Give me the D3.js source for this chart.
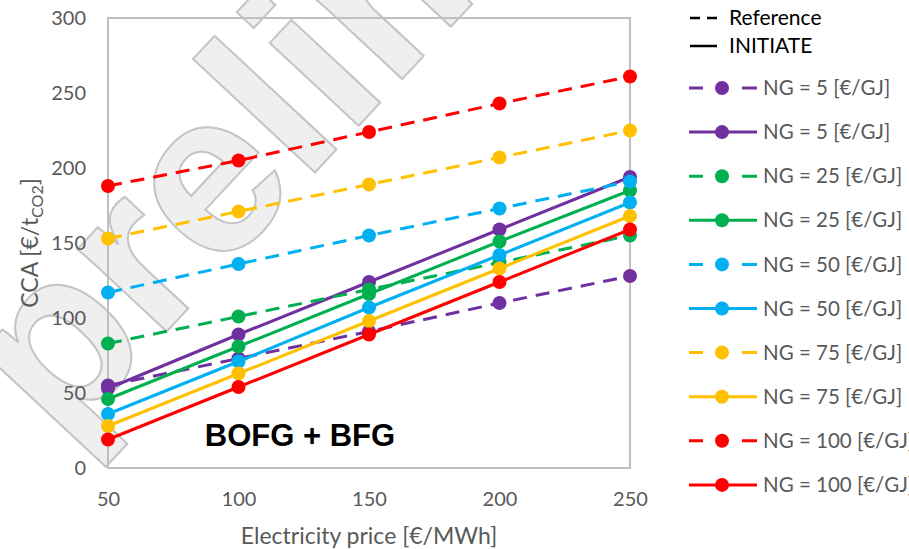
<!DOCTYPE html>
<html>
<head>
<meta charset="utf-8">
<script src="https://cdn.jsdelivr.net/npm/d3@7"></script>
<style>
  body { margin: 0; background: #fff; }
  svg { display: block; font-family: Lato, "Open Sans", sans-serif; }
</style>
</head>
<body>
<div id="chart"></div>
<script>
const width = 909
const height = 549

// electricity price [€/MWh]
const xValues = [50, 100, 150, 200, 250]
const ngLevels = [5, 25, 50, 75, 100]
const seriesColors = ["#7030A0", "#00B050", "#00B0F0", "#FFC000", "#FF0000"]
// CCA [€/tCO2], one row per NG price
const refValues = [
  [55, 73, 91, 110, 128],
  [83, 101, 119, 137, 155],
  [117, 136, 155, 173, 191],
  [153, 171, 189, 207, 225],
  [188, 205, 224, 243, 261]
]
const initValues = [
  [53, 89, 124, 159, 194],
  [46, 81, 116, 151, 185],
  [36, 71, 107, 142, 177],
  [28, 63, 98, 133, 168],
  [19, 54, 89, 124, 159]
]
const yTicks = [0, 50, 100, 150, 200, 250, 300]

const margin = {top: 18, right: 279, bottom: 81, left: 108}
const plotW = width - margin.left - margin.right
const plotH = height - margin.top - margin.bottom

const x = d3.scaleLinear().domain([50, 250]).range([0, plotW])
const y = d3.scaleLinear().domain([0, 300]).range([plotH, 0])

const svg = d3.select("#chart").append("svg")
  .attr("width", width)
  .attr("height", height)

// faint "preliminary" watermark behind everything
svg.append("text")
  .attr("transform", "translate(60,446) rotate(-47)")
  .attr("font-family", "Liberation Sans, Arial, sans-serif")
  .attr("font-weight", "bold")
  .attr("font-size", 230)
  .attr("fill", "#efefef")
  .attr("stroke", "#c4c4c4")
  .attr("stroke-width", 2)
  .text("prelim")

const g = svg.append("g").attr("transform", `translate(${margin.left},${margin.top})`)

g.append("rect")
  .attr("width", plotW)
  .attr("height", plotH)
  .attr("fill", "none")
  .attr("stroke", "#bfbfbf")
  .attr("stroke-width", 2)

const yAxis = g.append("g").call(d3.axisLeft(y).tickValues(yTicks).tickSize(0).tickPadding(22))
const xAxis = g.append("g").attr("transform", `translate(0,${plotH})`)
  .call(d3.axisBottom(x).tickValues(xValues).tickSize(0).tickPadding(24))
for (const ax of [yAxis, xAxis]) {
  ax.select(".domain").remove()
  ax.selectAll("text").attr("font-size", 20).attr("fill", "#595959").attr("font-family", "Lato, sans-serif")
}

// axis titles
svg.append("text")
  .attr("x", margin.left + plotW / 2)
  .attr("y", 544)
  .attr("text-anchor", "middle")
  .attr("font-size", 23)
  .attr("fill", "#595959")
  .text("Electricity price [€/MWh]")

const yt = svg.append("text")
  .attr("transform", `translate(38,${margin.top + plotH / 2}) rotate(-90)`)
  .attr("text-anchor", "middle")
  .attr("font-size", 23)
  .attr("fill", "#595959")
yt.append("tspan").text("CCA [€/t")
yt.append("tspan").attr("font-size", 16).attr("dy", 5).text("CO2")
yt.append("tspan").attr("dy", -5).text("]")

// series, drawn in the legend order (ref then initiate for each NG level)
const line = d3.line().x((d, i) => x(xValues[i])).y(d => y(d))
const series = []
ngLevels.forEach((ng, k) => {
  series.push({ng, color: seriesColors[k], dashed: true, values: refValues[k]})
  series.push({ng, color: seriesColors[k], dashed: false, values: initValues[k]})
})

series.forEach(s => {
  const sg = g.append("g")
  sg.append("path")
    .attr("d", line(s.values))
    .attr("fill", "none")
    .attr("stroke", s.color)
    .attr("stroke-width", 3)
    .attr("stroke-dasharray", s.dashed ? "14,9" : null)
  sg.selectAll("circle")
    .data(s.values)
    .join("circle")
    .attr("cx", (d, i) => x(xValues[i]))
    .attr("cy", d => y(d))
    .attr("r", 7)
    .attr("fill", s.color)
})

g.append("text")
  .attr("x", 192)
  .attr("y", 428)
  .attr("text-anchor", "middle")
  .attr("font-family", "Liberation Sans, Arial, sans-serif")
  .attr("font-weight", "bold")
  .attr("font-size", 31)
  .attr("fill", "#000")
  .text("BOFG + BFG")

// legend
const lg = svg.append("g").attr("transform", "translate(689,0)")
lg.append("line").attr("x1", 1).attr("x2", 28).attr("y1", 18).attr("y2", 18)
  .attr("stroke", "#000").attr("stroke-width", 2.5).attr("stroke-dasharray", "10,7")
lg.append("text").attr("x", 40).attr("y", 18).attr("dy", "0.35em")
  .attr("font-size", 21).attr("fill", "#000").text("Reference")
lg.append("line").attr("x1", 1).attr("x2", 28).attr("y1", 46).attr("y2", 46)
  .attr("stroke", "#000").attr("stroke-width", 2.5)
lg.append("text").attr("x", 40).attr("y", 46).attr("dy", "0.35em")
  .attr("font-size", 21).attr("fill", "#000").text("INITIATE")

const items = lg.selectAll("g.item")
  .data(series)
  .join("g")
  .attr("class", "item")
  .attr("transform", (d, i) => `translate(0,${88 + i * 44.1})`)
items.append("line")
  .attr("x1", 0).attr("x2", 68)
  .attr("stroke", d => d.color)
  .attr("stroke-width", 3)
  .attr("stroke-dasharray", d => d.dashed ? "14,39,15" : null)
items.append("circle")
  .attr("cx", 33).attr("r", 7)
  .attr("fill", d => d.color)
items.append("text")
  .attr("x", 74).attr("dy", "0.35em")
  .attr("font-size", 20.5)
  .attr("fill", "#595959")
  .text(d => `NG = ${d.ng} [€/GJ]`)
</script>
</body>
</html>
